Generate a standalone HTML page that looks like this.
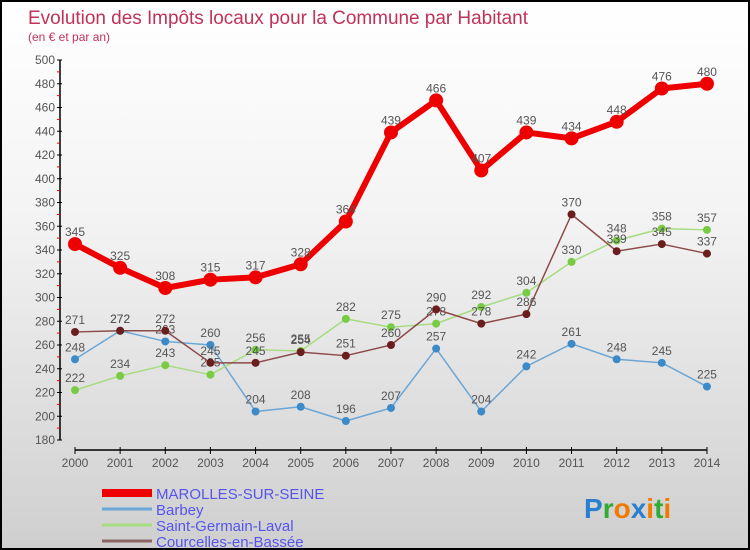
<!DOCTYPE html>
<html><head><meta charset="utf-8"><style>
body{margin:0;width:750px;height:550px;overflow:hidden;font-family:"Liberation Sans",sans-serif}
#wrap{position:absolute;left:0;top:0;width:746px;height:546px;border:2px solid #000;background:linear-gradient(#fff,#f3f3f3 40%,#cfcfcf)}
</style></head><body>
<div id="wrap">
<svg id="chart" width="746" height="546" style="position:absolute;left:0;top:0"></svg>
</div>
<script>
const years=["2000","2001","2002","2003","2004","2005","2006","2007","2008","2009","2010","2011","2012","2013","2014"];
const marolles=[345,325,308,315,317,328,364,439,466,407,439,434,448,476,480];
const barbey=[248,272,263,260,204,208,196,207,257,204,242,261,248,245,225];
const sgl=[222,234,243,235,256,255,282,275,278,292,304,330,348,358,357];
const courcelles=[271,272,272,245,245,254,251,260,290,278,286,370,339,345,337];
const yTicks=[180,200,220,240,260,280,300,320,340,360,380,400,420,440,460,480,500];
const O=-2;
const sx=i=>75+O+i*45.14;
const sy=v=>440+O-(v-180)*1.1875;
const svg=document.getElementById('chart');
const NS='http://www.w3.org/2000/svg';
function mk(t,a,p){const e=document.createElementNS(NS,t);for(const k in a)e.setAttribute(k,a[k]);(p||svg).appendChild(e);return e;}
let e;
e=mk('text',{x:26,y:22,'font-size':19,fill:'#c0325a',textLength:500});e.textContent='Evolution des Impôts locaux pour la Commune par Habitant';

e=mk('text',{x:26,y:39,'font-size':12,fill:'#c0325a'});e.textContent='(en € et par an)';

e=mk('line',{x1:60+O,y1:sy(500),x2:60+O,y2:sy(180),stroke:'#000','stroke-width':1.5});

yTicks.forEach((v,i)=>{
 mk('line',{x1:57+O,x2:62+O,y1:sy(v),y2:sy(v),stroke:'#000'});
 if(i<yTicks.length-1)mk('line',{x1:57+O,x2:60+O,y1:sy(v+10),y2:sy(v+10),stroke:'#e00'});
 const t=mk('text',{x:55+O,y:sy(v)+4,'font-size':12,fill:'#555','text-anchor':'end'});t.textContent=v;
 
});
e=mk('line',{x1:sx(0),y1:450+O,x2:sx(14),y2:450+O,stroke:'#000','stroke-width':1.5});

years.forEach((y,i)=>{
 mk('line',{x1:sx(i),x2:sx(i),y1:447+O,y2:454+O,stroke:'#000'});
 const t=mk('text',{x:sx(i),y:467+O,'font-size':12,fill:'#555','text-anchor':'middle'});t.textContent=y;
 
});
function series(vals,color,dark,w,r,name){
 const g=mk('g',{});
 mk('polyline',{points:vals.map((v,i)=>sx(i)+','+sy(v)).join(' '),fill:'none',stroke:color,'stroke-width':w,'stroke-linejoin':'round'},g);
 vals.forEach((v,i)=>{
  const c=mk('circle',{cx:sx(i),cy:sy(v),r:r,fill:dark},g);
  
  const t=mk('text',{x:sx(i),y:sy(v)-8,'font-size':12,fill:'#555','text-anchor':'middle'},g);t.textContent=v;
  
 });
}
series(barbey,'#6aa6d6','#3d8ac8',1.5,4,'barbey');
series(sgl,'#a6dc80','#77cc44',1.5,4,'saint-germain-laval');
series(courcelles,'#8c4a4a','#6a1e1e',1.5,4,'courcelles');
series(marolles,'#ee0000','#ee0000',6,7,'marolles');
const leg=[['MAROLLES-SUR-SEINE','#ee0000',8],['Barbey','#6aa6d6',3],['Saint-Germain-Laval','#a6dc80',3],['Courcelles-en-Bassée','#8c6666',3]];
leg.forEach((l,i)=>{
 const y=493+O+i*16;
 const g=mk('g',{});
 mk('line',{x1:100,x2:150,y1:y,y2:y,stroke:l[1],'stroke-width':l[2]},g);
 const t=mk('text',{x:154,y:y+6,'font-size':15,fill:'#5555ee'},g);t.textContent=l[0];
});
e=mk('text',{x:582,y:516,'font-size':28,'font-weight':'bold'});

[['P','#2a7fd0'],['r','#33aa33'],['o','#f07b00'],['x','#2a7fd0'],['i','#f07b00'],['t','#33aa33'],['i','#f07b00']].forEach(p=>{const s=mk('tspan',{fill:p[1]},e);s.textContent=p[0];});
</script>
</body></html>
